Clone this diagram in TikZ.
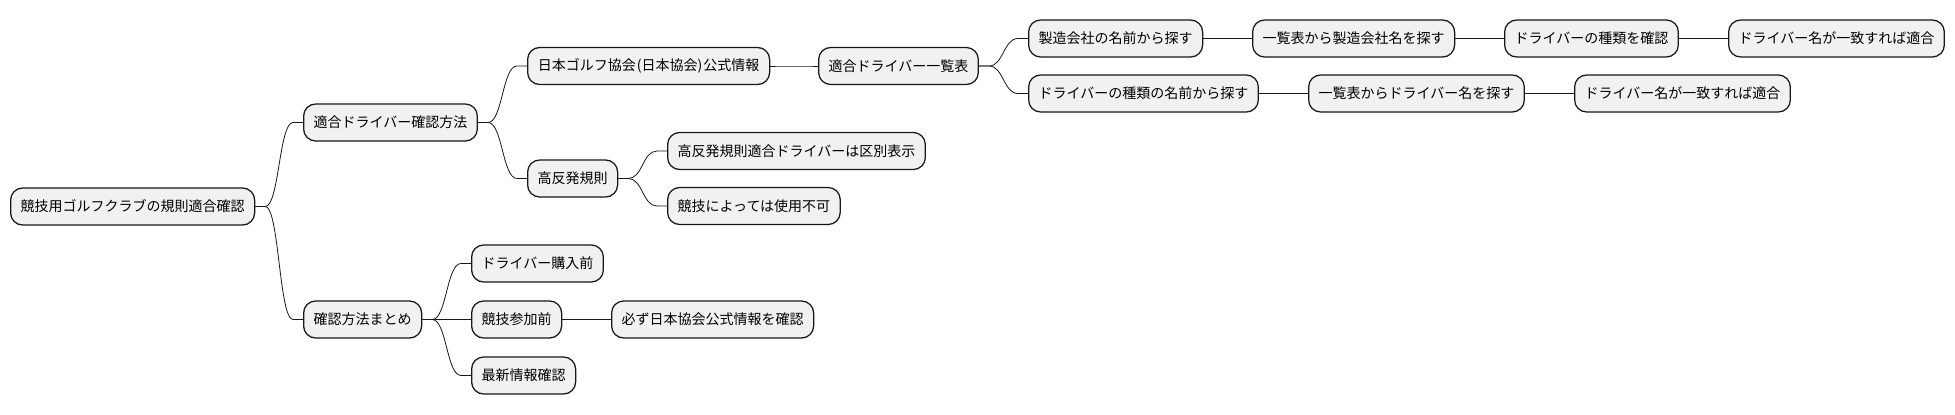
\documentclass[tikz,border=0pt]{standalone}
\usepackage{fontspec}
\setmainfont{Noto Sans CJK JP}
\usetikzlibrary{calc}
\definecolor{boxfill}{HTML}{F1F1F1}
\definecolor{boxline}{HTML}{181818}
\tikzset{
  mm/.style={draw=boxline, fill=boxfill, line width=1.25pt, rounded corners=12pt,
    minimum height=37pt, inner xsep=10pt, inner ysep=0pt, anchor=west,
    font=\fontsize{14pt}{16pt}\selectfont},
  conn/.style={draw=boxline, line width=0.8pt}
}
\newcommand\mmlink[2]{%
  \path ([xshift=10pt]#1.east) coordinate (la) ([xshift=-10pt]#2.west) coordinate (lb);
  \draw[conn] (#1.east) -- (la) .. controls ($(la)!0.5!(lb|-la)$) and ($(lb)!0.5!(la|-lb)$) .. (lb) -- (#2.west);}
\begin{document}
\begin{tikzpicture}[x=1pt,y=-1pt]
\useasboundingbox[fill=white] (0,0) rectangle (1955,415);
\node[mm] (root) at (10,206.5) {競技用ゴルフクラブの規則適合確認};
\node[mm] (a) at (303,122.5) {適合ドライバー確認方法};
\node[mm] (b) at (303,319.5) {確認方法まとめ};
\node[mm, minimum width=242pt] (a1) at (527,66) {日本ゴルフ協会\hspace{1pt}(日本協会)\hspace{1pt}公式情報};
\node[mm] (a2) at (527,178.5) {高反発規則};
\node[mm] (a11) at (818,66) {適合ドライバー一覧表};
\node[mm] (a111) at (1028,38.5) {製造会社の名前から探す};
\node[mm] (a1111) at (1252,38.5) {一覧表から製造会社名を探す};
\node[mm] (a11111) at (1504,38.5) {ドライバーの種類を確認};
\node[mm] (a111111) at (1728,38.5) {ドライバー名が一致すれば適合};
\node[mm] (a112) at (1028,93.5) {ドライバーの種類の名前から探す};
\node[mm] (a1121) at (1308,93.5) {一覧表からドライバー名を探す};
\node[mm] (a11211) at (1574,93.5) {ドライバー名が一致すれば適合};
\node[mm] (a21) at (667,151) {高反発規則適合ドライバーは区別表示};
\node[mm] (a22) at (667,206) {競技によっては使用不可};
\node[mm] (b1) at (471,263.5) {ドライバー購入前};
\node[mm] (b2) at (471,319.5) {競技参加前};
\node[mm] (b21) at (611,319.5) {必ず日本協会公式情報を確認};
\node[mm] (b3) at (471,375.5) {最新情報確認};
\mmlink{root}{a}
\mmlink{root}{b}
\mmlink{a}{a1}
\mmlink{a}{a2}
\mmlink{a1}{a11}
\mmlink{a11}{a111}
\mmlink{a11}{a112}
\mmlink{a111}{a1111}
\mmlink{a1111}{a11111}
\mmlink{a11111}{a111111}
\mmlink{a112}{a1121}
\mmlink{a1121}{a11211}
\mmlink{a2}{a21}
\mmlink{a2}{a22}
\mmlink{b}{b1}
\mmlink{b}{b2}
\mmlink{b}{b3}
\mmlink{b2}{b21}
\end{tikzpicture}
\end{document}
